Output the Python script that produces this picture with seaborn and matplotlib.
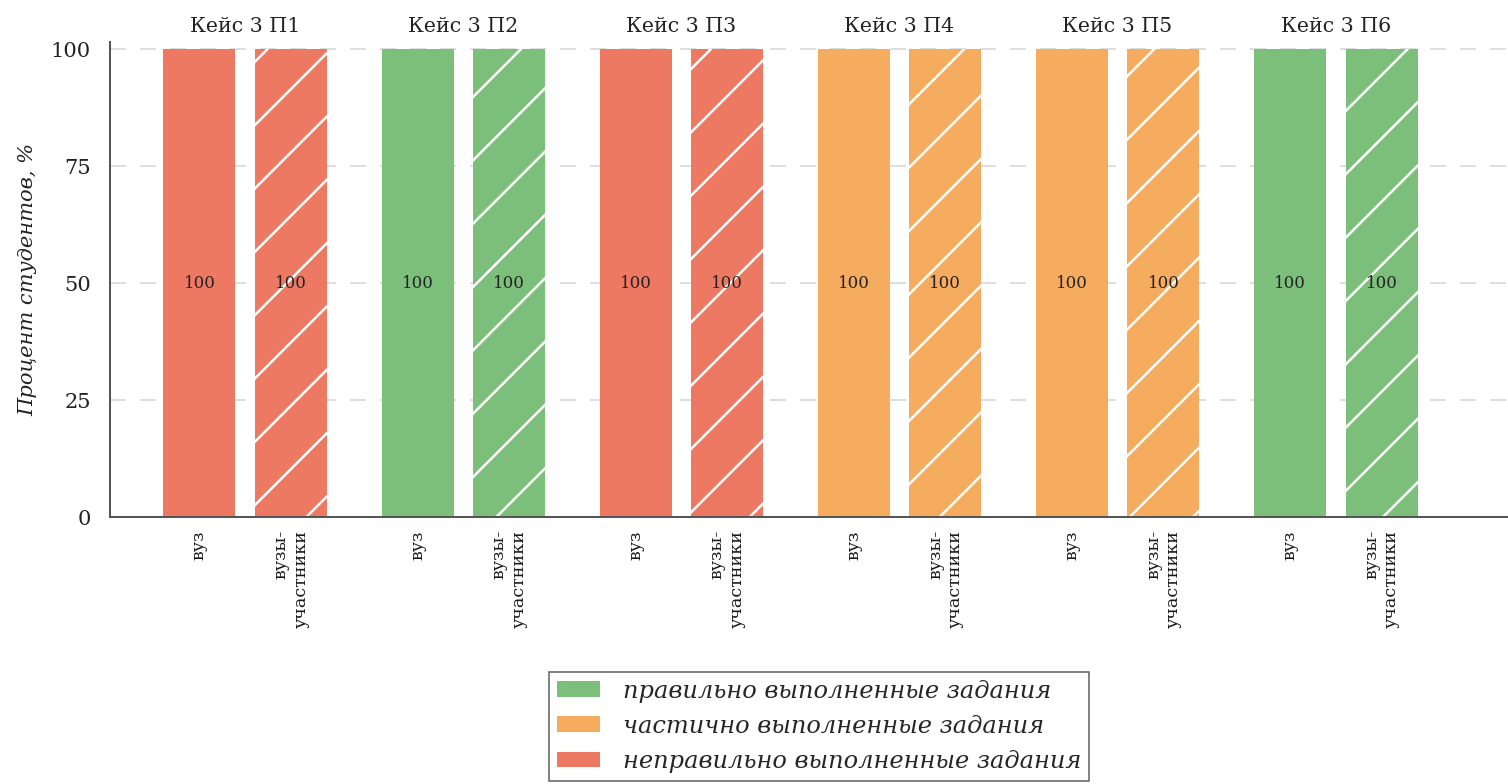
import matplotlib
matplotlib.use("Agg")
import matplotlib.pyplot as plt
from matplotlib.patches import Patch
import pandas as pd
import seaborn as sns

# Data
cases = ["Кейс 3 П1", "Кейс 3 П2", "Кейс 3 П3", "Кейс 3 П4", "Кейс 3 П5", "Кейс 3 П6"]
groups = ["вуз", "вузы-\nучастники"]
values_vuz = [100, 100, 100, 100, 100, 100]
values_part = [100, 100, 100, 100, 100, 100]
status_vuz = ["неправильно", "правильно", "неправильно", "частично", "частично", "правильно"]
status_part = ["неправильно", "правильно", "неправильно", "частично", "частично", "правильно"]

status_keys = ["правильно", "частично", "неправильно"]
status_labels = ["правильно выполненные задания",
                 "частично выполненные задания",
                 "неправильно выполненные задания"]
status_colors = ["#7cbf7b", "#f6ac5e", "#ee7962"]

DPI = 380
W, H = 1508, 784


def px(v):
    # pixels -> points at the chosen dpi
    return v * 72 / DPI


sns.set_style("white")
plt.rcParams["font.family"] = ["DejaVu Serif", "DejaVu Sans"]
plt.rcParams["hatch.linewidth"] = px(2.5)
plt.rcParams["hatch.color"] = "white"
plt.rcParams["lines.scale_dashes"] = False

df = pd.DataFrame({
    "case": cases * 2,
    "group": [groups[0]] * len(cases) + [groups[1]] * len(cases),
    "value": values_vuz + values_part,
    "status": status_vuz + status_part,
})
color_of = dict(zip(status_keys, status_colors))

fig = plt.figure(figsize=(W / DPI, H / DPI), dpi=DPI)
ax = fig.add_axes([110 / W, 1 - 517 / H, 1 - 110 / W, (517 - 42) / H])

sns.barplot(data=df, x="case", y="value", hue="group", order=cases, hue_order=groups,
            width=0.84, gap=0.214, legend=False, saturation=1, linewidth=0, ax=ax)

# recolour bars by status, hatch the second group
tick_pos, tick_lab = [], []
for i, cont in enumerate(ax.containers):
    rows = df[df["group"] == groups[i]].set_index("case").loc[cases]
    for bar, st in zip(cont, rows["status"]):
        bar.set_facecolor(color_of[st])
        bar.set_linewidth(0)
        if i == 1:
            bar.set_hatch("//")
            bar.set_edgecolor("white")
        tick_pos.append(bar.get_x() + bar.get_width() / 2)
        tick_lab.append(groups[i])
    ax.bar_label(cont, labels=[f"{v:g}" for v in rows["value"]], label_type="center",
                 fontsize=px(16.5), color="#222222")

order = sorted(range(len(tick_pos)), key=lambda k: tick_pos[k])
ax.set_xticks([tick_pos[k] for k in order])
ax.set_xticklabels([tick_lab[k] for k in order], rotation=90, va="top", ha="center",
                   multialignment="right", fontsize=px(17.5), color="#1a1a1a")
ax.tick_params(axis="x", length=0, pad=px(13))

ax.set_ylim(0, 101.5)
ax.set_xlim(-0.62, 5.79)
ax.set_yticks([0, 25, 50, 75, 100])
ax.tick_params(axis="y", length=0, pad=px(19), labelsize=px(21), labelcolor="#222222")
ax.set_xlabel("")
ax.set_ylabel("Процент студентов, %", fontstyle="italic", fontsize=px(21),
              labelpad=px(14), color="#222222")

ax.yaxis.grid(True, color="#d4d4d4", linestyle=(0, (px(16), px(14))), linewidth=px(1.5))
ax.set_axisbelow(True)
for side in ["top", "right"]:
    ax.spines[side].set_visible(False)
for side in ["left", "bottom"]:
    ax.spines[side].set_color("#555555")
    ax.spines[side].set_linewidth(px(2))

# case titles on top
top = ax.secondary_xaxis("top")
top.set_xticks(range(len(cases)))
top.set_xticklabels(cases, fontsize=px(20.5), color="#222222")
top.tick_params(length=0, pad=px(6))
top.spines["top"].set_visible(False)

handles = [Patch(facecolor=c, edgecolor="none", label=l)
           for c, l in zip(status_colors, status_labels)]
leg = fig.legend(handles=handles, loc="upper center", bbox_to_anchor=(819 / W, 1 - 672 / H),
                 frameon=True, fancybox=False, edgecolor="#333333", borderaxespad=0,
                 prop={"family": "DejaVu Serif", "style": "italic", "size": px(24.2)},
                 handlelength=1.78, handleheight=0.63, handletextpad=0.95,
                 labelspacing=0.5, borderpad=0.32)
leg.get_frame().set_linewidth(px(1.5))

fig.savefig("out.png", dpi=DPI)
